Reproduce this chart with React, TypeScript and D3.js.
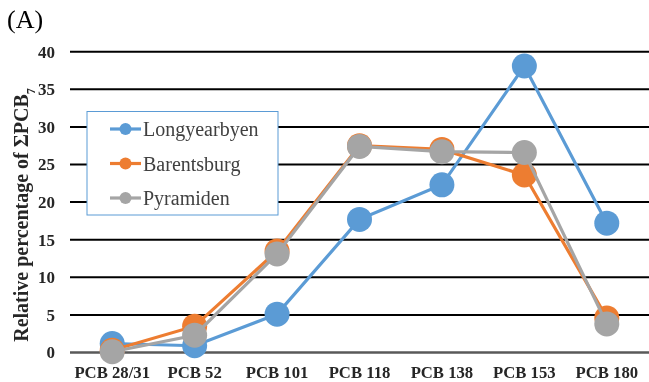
import React, { useEffect, useRef } from 'react';
import * as d3 from 'd3';

const categories = ['PCB 28/31', 'PCB 52', 'PCB 101', 'PCB 118', 'PCB 138', 'PCB 153', 'PCB 180'];
const longyearbyen = [1.2, 0.9, 5.1, 17.7, 22.3, 38.1, 17.2];
const barentsburg = [0.3, 3.5, 13.5, 27.5, 27.0, 23.6, 4.6];
const pyramiden = [0.1, 2.3, 13.1, 27.4, 26.7, 26.6, 3.8];
const yTicks = [0, 5, 10, 15, 20, 25, 30, 35, 40];

const series = [
    { name: 'Longyearbyen', values: longyearbyen, color: '#5B9BD5' },
    { name: 'Barentsburg', values: barentsburg, color: '#ED7D31' },
    { name: 'Pyramiden', values: pyramiden, color: '#A5A5A5' }
];

export default function App() {
    const svgRef = useRef<SVGSVGElement>(null);

    useEffect(() => {
        const svg = d3.select(svgRef.current);
        svg.selectAll('*').remove();

        const W = 649;
        const H = 382;
        const left = 71;
        const right = 648;
        const top = 51.7;
        const bottom = 352.5;
        const font = 'Liberation Serif, DejaVu Serif, serif';

        svg.attr('width', W).attr('height', H).style('display', 'block');

        const x = d3.scaleBand().domain(categories).range([left, right]);
        const y = d3.scaleLinear().domain([0, 40]).range([bottom, top]);

        // gridlines
        svg.append('g')
            .selectAll('line')
            .data(yTicks)
            .enter()
            .append('line')
            .attr('x1', 70)
            .attr('x2', W)
            .attr('y1', (d) => y(d))
            .attr('y2', (d) => y(d))
            .attr('stroke', (d) => (d === 0 ? '#595959' : '#000'))
            .attr('stroke-width', (d) => (d === 0 ? 2.5 : 2));

        // y tick labels
        svg.append('g')
            .selectAll('text')
            .data(yTicks)
            .enter()
            .append('text')
            .attr('x', 55)
            .attr('y', (d) => y(d))
            .attr('dy', '0.35em')
            .attr('text-anchor', 'end')
            .attr('font-family', font)
            .attr('font-weight', 'bold')
            .attr('font-size', 17)
            .attr('fill', '#262626')
            .text((d) => d);

        // x labels
        svg.append('g')
            .selectAll('text')
            .data(categories)
            .enter()
            .append('text')
            .attr('x', (d) => (x(d) as number) + x.bandwidth() / 2)
            .attr('y', 378)
            .attr('text-anchor', 'middle')
            .attr('font-family', font)
            .attr('font-weight', 'bold')
            .attr('font-size', 16.7)
            .attr('fill', '#262626')
            .text((d) => d);

        // y axis title
        const title = svg.append('text')
            .attr('transform', `translate(21,${(88 + 342) / 2}) rotate(-90)`)
            .attr('text-anchor', 'middle')
            .attr('dy', '0.35em')
            .attr('font-family', font)
            .attr('font-weight', 'bold')
            .attr('font-size', 20)
            .attr('fill', '#262626');
        title.append('tspan').text('Relative percentage of ΣPCB');
        title.append('tspan').attr('baseline-shift', 'sub').attr('font-size', 12).text('7');

        // panel label
        svg.append('text')
            .attr('x', 7)
            .attr('y', 28)
            .attr('font-family', font)
            .attr('font-size', 26)
            .attr('fill', '#000')
            .text('(A)');

        // legend box
        const lg = svg.append('g');
        lg.append('rect')
            .attr('x', 87)
            .attr('y', 111.5)
            .attr('width', 191)
            .attr('height', 103.5)
            .attr('fill', '#fff')
            .attr('stroke', '#5B9BD5')
            .attr('stroke-width', 1);

        // series
        const line = d3.line<number>()
            .x((_, i) => (x(categories[i]) as number) + x.bandwidth() / 2)
            .y((d) => y(d));

        series.forEach((s) => {
            const g = svg.append('g');
            g.append('path')
                .datum(s.values)
                .attr('fill', 'none')
                .attr('stroke', s.color)
                .attr('stroke-width', 3.2)
                .attr('d', line);
            g.selectAll('circle')
                .data(s.values)
                .enter()
                .append('circle')
                .attr('cx', (_, i) => (x(categories[i]) as number) + x.bandwidth() / 2)
                .attr('cy', (d) => y(d))
                .attr('r', 12.5)
                .attr('fill', s.color);
        });

        // legend entries
        series.forEach((s, i) => {
            const ly = 129 + i * 34.5;
            lg.append('line')
                .attr('x1', 110)
                .attr('x2', 141)
                .attr('y1', ly)
                .attr('y2', ly)
                .attr('stroke', s.color)
                .attr('stroke-width', 3.2);
            lg.append('circle').attr('cx', 125.5).attr('cy', ly).attr('r', 6).attr('fill', s.color);
            lg.append('text')
                .attr('x', 143)
                .attr('y', ly)
                .attr('dy', '0.35em')
                .attr('font-family', font)
                .attr('font-size', 20)
                .attr('fill', '#404040')
                .text(s.name);
        });
        lg.raise();
    }, []);

    return (
        <div style={{ position: 'fixed', left: 0, top: 0 }}>
            <svg ref={svgRef} />
        </div>
    );
}
